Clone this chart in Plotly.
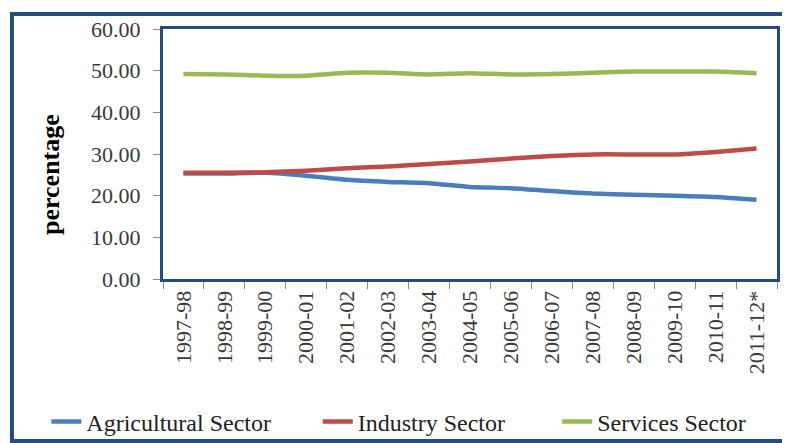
import plotly.graph_objects as go

years = ["1997-98", "1998-99", "1999-00", "2000-01", "2001-02", "2002-03", "2003-04",
         "2004-05", "2005-06", "2006-07", "2007-08", "2008-09", "2009-10", "2010-11", "2011-12*"]
agriculture = [25.3, 25.3, 25.5, 24.8, 23.8, 23.3, 23.0, 22.1, 21.8, 21.1, 20.5, 20.2, 20.0, 19.7, 19.0]
industry = [25.5, 25.5, 25.6, 26.0, 26.6, 27.0, 27.6, 28.2, 28.9, 29.5, 29.9, 29.9, 29.9, 30.5, 31.3]
services = [49.2, 49.1, 48.8, 48.8, 49.5, 49.5, 49.1, 49.4, 49.1, 49.2, 49.5, 49.8, 49.8, 49.8, 49.4]

serif = "Liberation Serif"
border = "#264b80"

# one legend per series so each entry sits where the reference has it
series = [("Agricultural Sector", agriculture, "#4a7ebb", "legend", -0.19),
          ("Industry Sector", industry, "#be4b48", "legend2", 0.252),
          ("Services Sector", services, "#98b954", "legend3", 0.642)]

fig = go.Figure()
legends = {}
for name, vals, col, leg, lx in series:
    fig.add_trace(go.Scatter(x=years, y=vals, name=name, mode="lines", legend=leg,
                             line=dict(color=col, width=4.5, shape="spline", smoothing=0.5)))
    legends[leg] = dict(orientation="h", x=lx, xanchor="left", y=-0.572, yanchor="middle",
                        font=dict(family=serif, size=24, color="#222222"),
                        bgcolor="rgba(0,0,0,0)")

fig.update_layout(
    width=782, height=435,
    margin=dict(l=155, r=13, t=21, b=164, autoexpand=False),
    paper_bgcolor="white", plot_bgcolor="white",
    font=dict(family=serif, color="#3a3a3a", size=22),
    showlegend=True,
    shapes=[dict(type="rect", xref="paper", yref="paper",
                 x0=-0.246, x1=1.013, y0=-0.648, y1=1.06,
                 line=dict(color=border, width=4))],
    annotations=[dict(text="<b>percentage</b>", xref="paper", yref="paper",
                      x=-0.184, y=0.416, xanchor="center", yanchor="middle",
                      textangle=-90, showarrow=False,
                      font=dict(family=serif, size=26, color="black"))],
    **legends,
)

fig.update_xaxes(type="category", range=[-0.5, 14.5], tickangle=-90, automargin=False,
                 showline=True, mirror=True, linecolor=border, linewidth=3,
                 ticks="outside", tickson="boundaries", ticklen=7, tickcolor="#8c8c8c",
                 showgrid=False, tickfont=dict(size=22))
fig.update_yaxes(range=[0, 60], dtick=10, tickformat=".2f", automargin=False,
                 showline=True, mirror=True, linecolor=border, linewidth=3,
                 ticks="outside", ticklen=7, tickcolor="#8c8c8c", ticklabelstandoff=8,
                 showgrid=False, zeroline=False, tickfont=dict(size=22))

fig.write_html("out.html")
